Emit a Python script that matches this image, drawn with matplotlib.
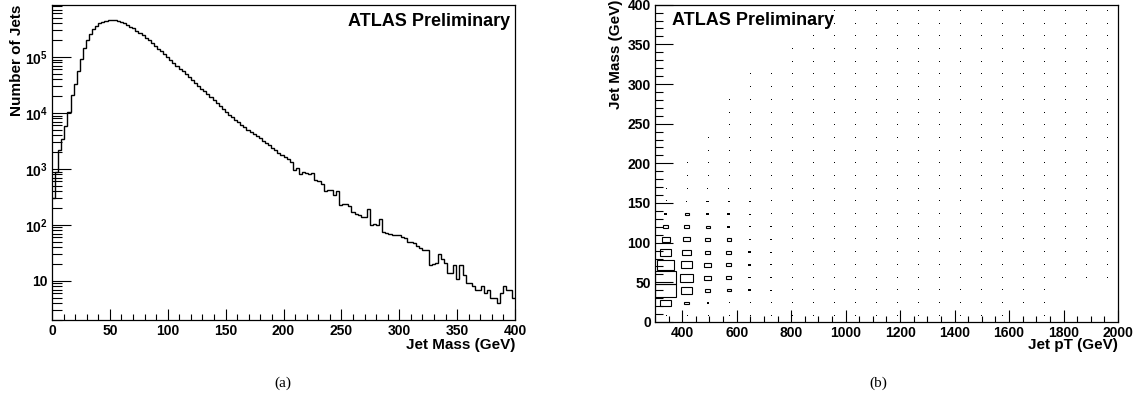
import numpy as np
import matplotlib
matplotlib.use("Agg")
import matplotlib.pyplot as plt
from matplotlib.patches import Rectangle
from matplotlib.ticker import MultipleLocator, LogLocator, NullFormatter, FixedLocator

# (a) jet mass spectrum, 150 bins from 0 to 400 GeV
mass_range = (0, 400)
jet_mass_counts = [
    302, 891, 2188, 3388, 5754, 10470, 20890, 33110, 56230, 93330,
    144500, 199500, 263000, 316200, 363100, 398100, 426600, 441600, 451900, 457100,
    451900, 441600, 426600, 407400, 380200, 350800, 323600, 295100, 269200, 245500,
    221300, 199500, 177800, 158500, 141300, 125900, 112200, 100000, 89130, 77620,
    69980, 61660, 55590, 50120, 44160, 38900, 34670, 30900, 27230, 24270,
    21630, 19280, 17180, 15140, 13180, 11750, 10470, 9333, 8414, 7586,
    6839, 6166, 5559, 5012, 4519, 4169, 3802, 3508, 3162, 2951,
    2630, 2344, 2138, 1950, 1778, 1660, 1514, 1349, 977, 1047,
    813, 871, 832, 813, 851, 631, 603, 537, 398, 427,
    417, 339, 398, 224, 240, 234, 219, 170, 158, 148,
    138, 141, 191, 98, 105, 100, 129, 76, 72, 69,
    65, 66, 66, 62, 58, 50, 49, 47, 42, 38,
    35, 36, 19, 20, 21, 30, 25, 21, 14, 14,
    19, 11, 19, 13, 9, 9, 8, 7, 7, 8,
    6, 7, 5, 5, 4, 6, 8, 7, 7, 5,
]
count_ticks = [10, 100, 1000, 10000, 100000]
count_tick_labels = ["10", r"$\mathbf{10^{2}}$", r"$\mathbf{10^{3}}$",
                     r"$\mathbf{10^{4}}$", r"$\mathbf{10^{5}}$"]

# (b) jet mass vs jet pT, box contents (relative), one list per pT bin,
# 25 mass bins of 16 GeV from 0 to 400
pt_range = (300, 2000)
D = 0.0003
pt_bins = [
    [0.004, 0.27, 1.0, 0.97, 0.60, 0.30, 0.145, 0.064, 0.012, 0.003, 0.0006, 0, 0, 0, 0, 0, 0, 0, 0, 0, 0, 0, 0, 0, 0],
    [0.002, 0.05, 0.27, 0.40, 0.31, 0.16, 0.10, 0.064, 0.036, 0.006, 0.003, 0.001, 0.0005, 0, 0, 0, 0, 0, 0, 0, 0, 0, 0, 0, 0],
    [0.001, 0.009, 0.056, 0.10, 0.11, 0.064, 0.056, 0.036, 0.016, 0.012, 0.006, 0.003, 0.002, 0.001, 0.0007, 0, 0, 0, 0, 0, 0, 0, 0, 0, 0],
    [0.001, 0.004, 0.036, 0.048, 0.048, 0.045, 0.036, 0.016, 0.016, 0.009, 0.006, 0.003, 0.002, 0.0015, 0.001, 0.0008, 0.0006, 0.0005, 0, 0, 0, 0, 0, 0, 0],
    [0.001, 0.003, 0.016, 0.020, 0.020, 0.016, 0.012, 0.012, 0.009, 0.006, 0.005, 0.003, 0.002, 0.0015, 0.001, 0.0008, 0.0006, 0.0005, 0.0004, D, 0, 0, 0, 0, 0],
    [0.0005, 0.002, 0.006, 0.008, 0.009, 0.008, 0.007, 0.006, 0.005, 0.004, 0.003, 0.002, 0.0015, 0.001, 0.0008, 0.0006, 0.0005, 0.0004, D, D, 0, 0, 0, 0, 0],
    [D, 0.001, 0.003, 0.004, 0.004, 0.004, 0.003, 0.003, 0.002, 0.002, 0.0015, 0.001, 0.001, 0.0008, 0.0006, 0.0005, 0.0004, 0.0004, D, D, D, D, 0, 0, 0],
    [D, 0.0008, 0.002, 0.0025, 0.0025, 0.0025, 0.002, 0.002, 0.0015, 0.0012, 0.001, 0.0008, 0.0007, 0.0006, 0.0005, 0.0004, 0.0004, D, D, D, D, D, D, D, 0],
    [D, 0.0005, 0.0012, 0.0015, 0.0015, 0.0015, 0.0012, 0.001, 0.001, 0.0008, 0.0007, 0.0006, 0.0005, 0.0004, 0.0004, D, D, D, D, D, D, D, D, D, D],
    [D, D, 0.0008, 0.001, 0.001, 0.001, 0.0008, 0.0007, 0.0006, 0.0005, 0.0004, 0.0004, D, D, D, D, D, D, D, D, D, D, D, D, D],
    [D, D, 0.0005, 0.0006, 0.0006, 0.0006, 0.0005, 0.0005, 0.0004, D, D, D, D, D, D, D, D, D, D, D, D, D, D, D, D],
    [D, D, 0.0004, 0.0004, 0.0004, 0.0004, D, D, D, D, D, D, D, D, D, D, D, D, D, D, D, D, D, D, D],
    [D, D, D, D, D, D, D, D, D, D, D, D, D, D, D, D, D, D, D, D, D, D, D, D, D],
    [D, D, D, D, D, D, D, D, D, D, D, D, D, D, D, D, D, D, D, D, D, D, D, D, D],
    [D, D, D, D, D, D, D, D, D, D, D, D, D, D, D, D, D, D, D, D, D, D, D, D, D],
    [D, D, D, D, D, D, D, D, D, D, D, D, D, D, D, D, D, D, D, D, D, D, D, D, D],
    [D, D, D, D, D, D, D, D, D, D, D, D, D, D, D, D, D, D, D, D, D, D, D, D, D],
    [0, D, D, D, D, D, D, D, D, D, D, D, D, D, D, D, D, D, D, D, D, D, D, D, D],
    [D, D, D, D, D, D, D, D, D, D, D, D, D, D, D, D, D, D, D, D, D, D, D, D, D],
    [0, 0, 0, D, D, D, D, D, D, D, D, D, D, D, D, D, D, D, D, D, D, D, D, D, D],
    [0, 0, 0, D, D, D, D, D, D, D, D, D, D, D, D, D, D, D, D, D, D, D, D, D, D],
    [0, 0, 0, D, D, D, D, D, D, D, D, D, D, D, D, D, D, D, D, D, D, D, D, D, D],
]

plt.rcParams['font.family'] = ['Liberation Sans', 'DejaVu Sans']
plt.rcParams['font.weight'] = 'bold'
plt.rcParams['axes.labelweight'] = 'bold'
plt.rcParams['mathtext.fontset'] = 'custom'
plt.rcParams['mathtext.bf'] = 'Liberation Sans:bold'
plt.rcParams['mathtext.rm'] = 'Liberation Sans:bold'

fig = plt.figure(figsize=(11.35, 4.04), dpi=100)
ax1 = fig.add_axes([0.0458, 0.2079, 0.408, 0.7797])
ax2 = fig.add_axes([0.5771, 0.2030, 0.4079, 0.7854])

# ---- left: jet mass
edges = np.linspace(mass_range[0], mass_range[1], len(jet_mass_counts) + 1)
ax1.stairs(jet_mass_counts, edges, color='black', lw=1.0, baseline=None)
ax1.set_yscale('log')
ax1.set_xlim(*mass_range)
ax1.set_ylim(2.0, 8.5e5)
ax1.yaxis.set_major_locator(FixedLocator(count_ticks))
ax1.set_yticklabels(count_tick_labels)
ax1.yaxis.set_minor_locator(LogLocator(base=10, subs=np.arange(2, 10), numticks=20))
ax1.yaxis.set_minor_formatter(NullFormatter())
ax1.xaxis.set_major_locator(MultipleLocator(50))
ax1.xaxis.set_minor_locator(MultipleLocator(10))
ax1.tick_params(axis='y', which='major', length=14)
ax1.tick_params(axis='y', which='minor', length=7)
ax1.tick_params(axis='x', which='major', length=8)
ax1.tick_params(axis='x', which='minor', length=4)
ax1.set_xlabel("Jet Mass (GeV)", loc='right', fontsize=11, fontweight='bold')
ax1.set_ylabel("Number of Jets", loc='top', fontsize=11, fontweight='bold')
ax1.xaxis.set_label_coords(1.0, -0.058)
ax1.yaxis.set_label_coords(-0.060, 1.0)
ax1.text(0.99, 0.947, "ATLAS Preliminary", transform=ax1.transAxes,
         ha='right', va='center', fontsize=13, fontweight='bold')

# ---- right: jet mass vs pT boxes
mass_box = np.array(pt_bins)
n_pt, n_m = mass_box.shape
pt_edges = np.linspace(pt_range[0], pt_range[1], n_pt + 1)
m_edges = np.linspace(mass_range[0], mass_range[1], n_m + 1)
vmax = mass_box.max()
# data units per pixel: the tiniest boxes become one-pixel dots
px_x = (pt_range[1] - pt_range[0]) / 463
px_y = (mass_range[1] - mass_range[0]) / 318
dot_x, dot_y = [], []
for i in range(n_pt):
    for j in range(n_m):
        v = mass_box[i, j]
        if v <= 0:
            continue
        s = np.sqrt(v / vmax)
        dx = (pt_edges[i + 1] - pt_edges[i]) * s
        dy = (m_edges[j + 1] - m_edges[j]) * s
        xc = 0.5 * (pt_edges[i] + pt_edges[i + 1])
        yc = 0.5 * (m_edges[j] + m_edges[j + 1])
        if dx / px_x < 1.6:
            dot_x.append(xc)
            dot_y.append(yc)
        elif dx / px_x < 3.5:
            dy = max(dy, 1.2 * px_y)
            ax2.add_patch(Rectangle((xc - dx / 2, yc - dy / 2), dx, dy,
                                    facecolor='black', lw=0))
        else:
            ax2.add_patch(Rectangle((xc - dx / 2, yc - dy / 2), dx, dy,
                                    fill=False, edgecolor='black', lw=0.8))
ax2.plot(dot_x, dot_y, ',', color='black')
ax2.set_xlim(*pt_range)
ax2.set_ylim(*mass_range)
ax2.xaxis.set_major_locator(MultipleLocator(200))
ax2.xaxis.set_minor_locator(MultipleLocator(50))
ax2.yaxis.set_major_locator(MultipleLocator(50))
ax2.yaxis.set_minor_locator(MultipleLocator(10))
ax2.tick_params(axis='y', which='major', length=13)
ax2.tick_params(axis='y', which='minor', length=6)
ax2.tick_params(axis='x', which='major', length=9)
ax2.tick_params(axis='x', which='minor', length=4.5)
ax2.set_xlabel("Jet pT (GeV)", loc='right', fontsize=11, fontweight='bold')
ax2.set_ylabel("Jet Mass (GeV)", loc='top', fontsize=11, fontweight='bold')
ax2.xaxis.set_label_coords(1.0, -0.052)
ax2.yaxis.set_label_coords(-0.069, 1.015)
ax2.text(0.037, 0.949, "ATLAS Preliminary", transform=ax2.transAxes,
         ha='left', va='center', fontsize=13, fontweight='bold')

for ax in (ax1, ax2):
    ax.tick_params(which='both', direction='in', top=False, right=False,
                   labelsize=10, pad=3, width=0.8)
    for lbl in ax.get_xticklabels() + ax.get_yticklabels():
        lbl.set_fontweight('bold')
    for sp in ax.spines.values():
        sp.set_linewidth(0.9)

fig.text(283 / 1135, 1 - 383 / 404, "(a)", ha='center', va='center',
         fontsize=11, family='Liberation Serif', weight='normal')
fig.text(878 / 1135, 1 - 383 / 404, "(b)", ha='center', va='center',
         fontsize=11, family='Liberation Serif', weight='normal')

fig.savefig("out.png", dpi=100)
